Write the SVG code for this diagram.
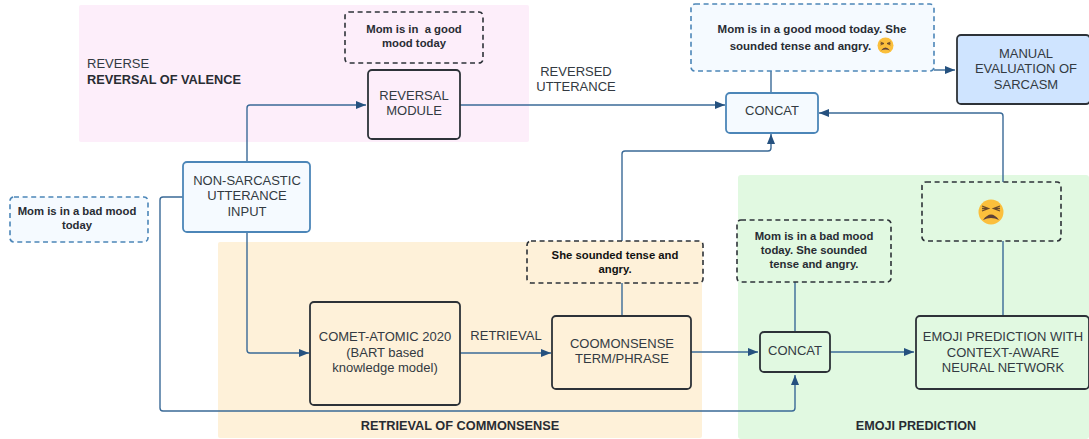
<svg xmlns="http://www.w3.org/2000/svg" width="1089" height="439" viewBox="0 0 1089 439">
<style>
text{font-family:"Liberation Sans",Arial,sans-serif;fill:#333a42;font-size:13px;text-anchor:middle}
.b{font-weight:700;fill:#282c33;font-size:11.3px;white-space:pre}
.f{font-size:11.500px}
.t{font-weight:700;font-size:12.750px;fill:#282c33}
.n{stroke:#2d3238;stroke-width:1.8}
.u{stroke:#4c86b8;stroke-width:1.8}
.d{stroke:#2d3238;stroke-width:1.6;stroke-dasharray:5 3.6}
.du{stroke:#4c86b8;stroke-width:1.6;stroke-dasharray:5 3.6}
.c{fill:none;stroke:#3a6a97;stroke-width:1.4}
.eye{fill:none;stroke:#6b4a2a}
</style>
<defs>
<marker id="a" markerUnits="userSpaceOnUse" markerWidth="11" markerHeight="8" refX="10" refY="4" orient="auto"><path d="M0 0L10 4L0 8z" fill="#25517f"/></marker>
</defs>
<g id="regions">
<rect x="79" y="5" width="450" height="137" rx="2" fill="#fdeefa"/>
<rect x="218" y="242" width="484" height="196" rx="2" fill="#fef1d9"/>
<rect x="738" y="175" width="351" height="264" rx="3" fill="#e1f9e1"/>
</g>
<g id="connectors">
<path class="c" d="M247 162V108Q247 105 250 105H366" marker-end="url(#a)"/>
<path class="c" d="M247 233V350Q247 353 250 353H309" marker-end="url(#a)"/>
<path class="c" d="M183 197H163Q160 197 160 200V408Q160 411 163 411H792Q795 411 795 408V375" marker-end="url(#a)"/>
<path class="c" d="M460 105H725" marker-end="url(#a)"/>
<path class="c" d="M460 353H551" marker-end="url(#a)"/>
<path class="c" d="M691 352H758" marker-end="url(#a)"/>
<path class="c" d="M830 352H914" marker-end="url(#a)"/>
<path class="c" d="M622 316V283"/>
<path class="c" d="M622 241V154Q622 151 625 151H768Q771 151 771 148V134" marker-end="url(#a)"/>
<path class="c" d="M795 332V282"/>
<path class="c" d="M1003 316V241"/>
<path class="c" d="M1003 182V116Q1003 113 1000 113H819" marker-end="url(#a)"/>
<path class="c" d="M771 93V71"/>
<path class="c" d="M934 70H955" marker-end="url(#a)"/>
</g>
<g id="input-text"><rect class="du" x="10" y="197" width="138" height="45" rx="4" fill="#f5faff"/><text class="b"><tspan x="77" y="215">Mom is in a bad mood</tspan><tspan x="77" y="229">today</tspan></text></g>
<g id="input"><rect class="u" x="183" y="162" width="127" height="70" rx="4" fill="#f5faff"/><text><tspan x="247" y="185">NON-SARCASTIC</tspan><tspan x="247" y="200">UTTERANCE</tspan><tspan x="247" y="216">INPUT</tspan></text></g>
<g id="reverse-label"><text style="text-anchor:start"><tspan x="87" y="68">REVERSE</tspan><tspan x="87" y="84" class="t">REVERSAL OF VALENCE</tspan></text></g>
<g id="good-mood"><rect class="d" x="345" y="12" width="138" height="51" rx="4" fill="#fdeefa"/><text class="b"><tspan x="414" y="33">Mom is in  a good</tspan><tspan x="414" y="47">mood today</tspan></text></g>
<g id="reversal"><rect class="n" x="368" y="70" width="92" height="69" rx="4" fill="#fdeefa"/><text><tspan x="414" y="100">REVERSAL</tspan><tspan x="414" y="115">MODULE</tspan></text></g>
<g id="reversed-label"><text><tspan x="576" y="76">REVERSED</tspan><tspan x="576" y="91">UTTERANCE</tspan></text></g>
<g id="final"><rect class="du" x="691" y="4" width="243" height="67" rx="4" fill="#f5faff"/><text class="b f"><tspan x="812" y="32.500">Mom is in a good mood today. She</tspan><tspan x="800.500" y="49.500">sounded tense and angry.</tspan></text>
<g transform="translate(885.500 45.500)"><circle r="8" fill="#fbbf3c"/><path class="eye" d="M-5-3.500L-1.500-2L-5-.5M-5-2H-1.500M5-3.500L1.500-2L5-.5M5-2H1.500" stroke-width=".9"/><path d="M-4.500 5Q0-1 4.500 5Q0 3-4.500 5Z" fill="#5d4037"/></g></g>
<g id="concat-top"><rect class="u" x="726" y="93" width="92" height="40" rx="4" fill="#f5faff"/><text x="772" y="115">CONCAT</text></g>
<g id="manual"><rect class="n" x="957" y="35" width="133" height="69" rx="4" fill="#cfe4ff"/><text><tspan x="1026" y="58">MANUAL</tspan><tspan x="1026" y="73">EVALUATION OF</tspan><tspan x="1026" y="89">SARCASM</tspan></text></g>
<g id="commonsense-text"><rect class="d" x="527" y="241" width="176" height="42" rx="4" fill="#fef1d9"/><text class="b" style="fill:#111"><tspan x="615" y="259">She sounded tense and</tspan><tspan x="615" y="273">angry.</tspan></text></g>
<g id="comet"><rect class="n" x="310" y="302" width="150" height="103" rx="4" fill="#fef1d9"/><text><tspan x="385" y="341">COMET-ATOMIC 2020</tspan><tspan x="385" y="357">(BART based</tspan><tspan x="385" y="372">knowledge model)</tspan></text></g>
<g id="retrieval-label"><text x="506" y="340">RETRIEVAL</text></g>
<g id="commonsense"><rect class="n" x="552" y="316" width="139" height="73" rx="4" fill="#fef1d9"/><text><tspan x="622" y="348">COOMONSENSE</tspan><tspan x="622" y="363">TERM/PHRASE</tspan></text></g>
<g id="retrieval-title"><text class="t" x="460" y="430">RETRIEVAL OF COMMONSENSE</text></g>
<g id="bad-mood-text"><rect class="d" x="737" y="220" width="154" height="62" rx="4" fill="#e1f9e1"/><text class="b"><tspan x="814" y="240">Mom is in a bad mood</tspan><tspan x="814" y="254">today. She sounded</tspan><tspan x="814" y="268">tense and angry.</tspan></text></g>
<g id="concat-bottom"><rect class="n" x="760" y="332" width="70" height="40" rx="4" fill="#e1f9e1"/><text x="795" y="355">CONCAT</text></g>
<g id="emoji-box"><rect class="d" x="922" y="182" width="139" height="59" rx="4" fill="#e1f9e1"/><g transform="translate(991 212)"><circle r="12.500" fill="#fbbf3c"/><path class="eye" d="M-9-6L-2.500-3.500L-9-1M-9-3.500H-2.500M9-6L2.500-3.500L9-1M9-3.500H2.500" stroke-width="1.300"/><path d="M-8 8Q0-3 8 8Q0 4-8 8Z" fill="#5d4037"/></g></g>
<g id="emoji-net"><rect class="n" x="916" y="316" width="173" height="73" rx="4" fill="#e1f9e1"/><text><tspan x="1003" y="341">EMOJI PREDICTION WITH</tspan><tspan x="1003" y="357">CONTEXT-AWARE</tspan><tspan x="1003" y="372">NEURAL NETWORK</tspan></text></g>
<g id="emoji-title"><text class="t" x="916" y="430" style="font-size:12.600px">EMOJI PREDICTION</text></g>
</svg>
